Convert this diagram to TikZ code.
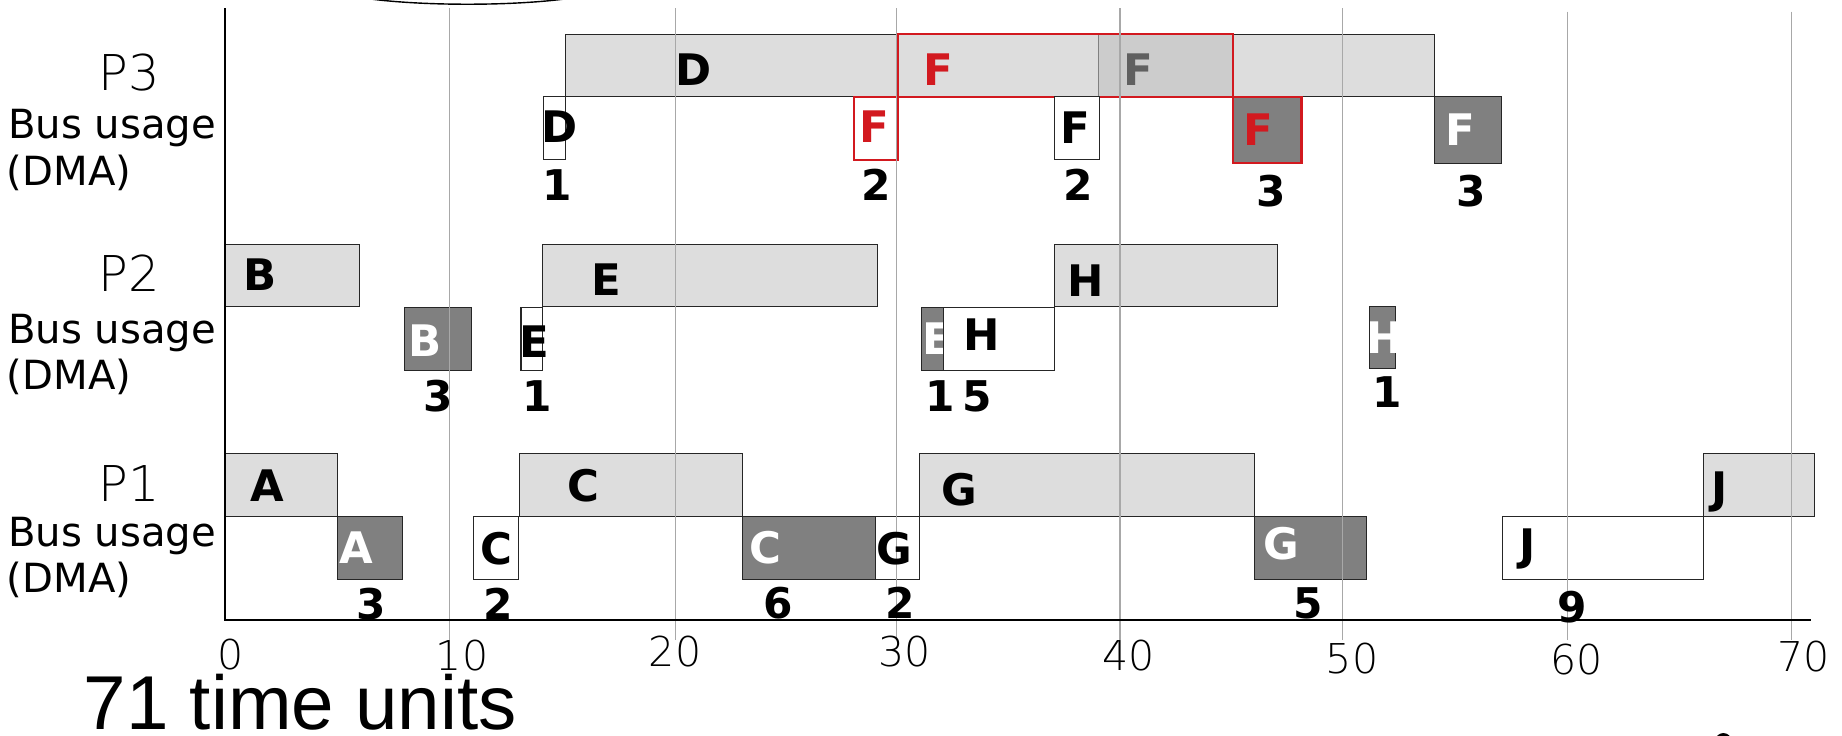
\documentclass[tikz,border=0pt]{standalone}
\usepackage{fontspec}
\newfontfamily\thinf{DejaVu Sans ExtraLight}
\newfontfamily\djv{DejaVu Sans}
\newfontfamily\arialf{Liberation Sans}
\definecolor{lg}{HTML}{DDDDDD}
\definecolor{ov}{HTML}{CCCCCC}
\definecolor{dg}{HTML}{808080}
\definecolor{rd}{HTML}{D2191F}
\definecolor{gt}{HTML}{606060}
\definecolor{gridc}{HTML}{A8A8A8}
\tikzset{
 bx/.style={draw=black!85, line width=0.45pt},
 lgt/.style={bx, fill=lg},
 drk/.style={bx, fill=dg},
 wht/.style={bx, fill=white},
 redb/.style={draw=rd, line width=0.9pt},
 lbl/.style={inner sep=0pt, font=\djv\bfseries\fontsize{18.5}{20}\selectfont},
 num/.style={inner sep=0pt, font=\djv\bfseries\fontsize{18}{20}\selectfont},
 tick/.style={inner sep=0pt, font=\thinf\fontsize{17.5}{20}\selectfont},
 pname/.style={inner sep=0pt, anchor=base, font=\thinf\fontsize{21}{24}\selectfont},
 side/.style={inner sep=0pt, anchor=base west, font=\djv\fontsize{17.1}{20}\selectfont},
 gridl/.style={draw=gridc, line width=0.5pt},
 axisl/.style={draw=black, line width=0.9pt},
}
\begin{document}
\begin{tikzpicture}[x=0.5pt,y=-0.5pt]
\useasboundingbox (0,0) rectangle (1568,626);
\clip (0,0) rectangle (1568,626);
% partial shapes at the edges
\draw[line width=0.6pt] (398,-13.4) ellipse [x radius=61.3pt, y radius=8.5pt];
\fill (1467,631) ellipse [x radius=3.5pt, y radius=3.5pt];
% ---------- P1 ----------
\draw[lgt] (191.5,386) rectangle (287,439.5);
\draw[lgt] (442,386) rectangle (632,439.5);
\draw[lgt] (783,386) rectangle (1068,439.5);
\draw[lgt] (1450,386) rectangle (1544.5,439.5);
\draw[drk] (287,439.5) rectangle (343,493);
\draw[wht] (403,439.5) rectangle (441,493);
\draw[drk] (632,439.5) rectangle (745,493);
\draw[wht] (745,439.5) rectangle (783,493);
\draw[drk] (1068,439.5) rectangle (1163,493);
\draw[wht] (1279,439.5) rectangle (1450,493);
% ---------- P2 ----------
\draw[lgt] (191.5,208) rectangle (306,261);
\draw[lgt] (462,208) rectangle (747,261);
\draw[lgt] (898,208) rectangle (1087.5,261);
\draw[drk] (344.5,262) rectangle (401.5,315);
\draw[wht] (443.5,262) rectangle (462,315);
\draw[drk] (784.4,262) rectangle (803.4,315);
\begin{scope}
\clip (784.4,262) rectangle (803.4,315);
\node[lbl, text=white] (lE2w) at (798,288) {E};
\end{scope}
\draw[wht] (803.4,262) rectangle (898,315);
\draw[drk] (1165.5,261) rectangle (1188,314);
\begin{scope}
\clip (1165.5,261) rectangle (1188,314);
\node[lbl, text=white] (lH2w) at (1179,287.3) {H};
\end{scope}
% ---------- P3 ----------
\draw[wht] (462.4,82.5) rectangle (481.5,136);
\draw[lgt] (481.5,29.2) rectangle (763.5,82.5);
\draw[lgt] (935,29.2) rectangle (1221.3,82.5);
\fill[lg] (764.5,29.2) rectangle (935,82.5);
\fill[ov] (935,29.2) rectangle (1049.6,82.5);
\draw[draw=gt!80, line width=0.45pt] (935,29.2) -- (935,82.5);
\draw[redb] (764.5,29.2) rectangle (1049.6,82.5);
\draw[wht, redb] (726.6,82.5) rectangle (764.5,136);
\draw[wht] (898,82.5) rectangle (936,135.6);
\draw[drk, redb] (1049.6,82.5) rectangle (1107.9,139);
\draw[drk] (1221.3,82.5) rectangle (1278.5,139);
% ---------- grid and axes ----------
\foreach \gx/\gy in {382.5/7,575/7,763/7,953.4/7,1143/7,1334/10,1525/10}
  \draw[gridl] (\gx,\gy) -- (\gx,545);
\draw[axisl] (191.5,7) -- (191.5,528) -- (1542,528);
% ---------- tick labels ----------
\node[tick] (t0) at (196.6,557) {0};
\node[tick] (t10) at (393.3,558.3) {10};
\node[tick] (t20) at (574.7,554.8) {20};
\node[tick] (t30) at (770,555) {30};
\node[tick] (t40) at (960.7,557.6) {40};
\node[tick] (t50) at (1151,560.4) {50};
\node[tick] (t60) at (1342,561.8) {60};
\node[tick] (t70) at (1535,559) {70};
\node[inner sep=0pt, anchor=base west, font=\arialf\fontsize{32.5}{34}\selectfont] (total) at (71,621) {71 time units};
% ---------- side labels ----------
\node[pname] (p3) at (110,77) {P3};
\node[side] (b3) at (6.5,117.5) {Bus usage};
\node[side] (d3) at (5.5,157.5) {(DMA)};
\node[pname] (p2) at (110,248) {P2};
\node[side] (b2) at (6.5,292) {Bus usage};
\node[side] (d2) at (5.5,331.5) {(DMA)};
\node[pname] (p1) at (110,426.5) {P1};
\node[side] (b1) at (6.5,465) {Bus usage};
\node[side] (d1) at (5.5,504.5) {(DMA)};
% ---------- P3 labels ----------
\node[lbl] (lD3) at (590.5,59) {D};
\node[lbl] (lD3d) at (476,108) {D};
\node[lbl, text=rd] (lF3a) at (744,108) {F};
\node[lbl, text=rd] (lF3b) at (798.5,59) {F};
\node[lbl, text=gt] (lF3c) at (969,59) {F};
\node[lbl] (lF3d) at (915.5,108.5) {F};
\node[lbl, text=rd] (lF3e) at (1071.5,110) {F};
\node[lbl, text=white] (lF3f) at (1243,110.4) {F};
\node[num] (n31) at (474,157.5) {1};
\node[num] (n32) at (746,157.5) {2};
\node[num] (n33) at (917.5,157.5) {2};
\node[num] (n34) at (1082,163) {3};
\node[num] (n35) at (1252.5,163) {3};
% ---------- P2 labels ----------
\node[lbl] (lB2) at (221.4,234) {B};
\node[lbl, text=white] (lB2d) at (362,290) {B};
\node[lbl] (lE2d) at (454.5,291) {E};
\node[lbl] (lE2) at (516,238) {E};
\node[lbl] (lH2d) at (836,284.5) {H};
\node[lbl] (lH2) at (923.8,239) {H};
\node[num] (n21) at (372.8,337) {3};
\node[num] (n22) at (457,337) {1};
\node[num] (n23) at (800,337) {1};
\node[num] (n24) at (831.8,337) {5};
\node[num] (n25) at (1181,334) {1};
% ---------- P1 labels ----------
\node[lbl] (lA1) at (227.9,413) {A};
\node[lbl, text=white] (lA1d) at (303,465.8) {A};
\node[lbl] (lC1d) at (423,467) {C};
\node[lbl] (lC1) at (497,413.5) {C};
\node[lbl, text=white] (lC1e) at (652,466) {C};
\node[lbl] (lG1d) at (761,466.8) {G};
\node[lbl] (lG1) at (816.4,416.5) {G};
\node[lbl, text=white] (lG1e) at (1090.3,463) {G};
\node[lbl] (lJ1d) at (1300,467.6) {J};
\node[lbl] (lJ1) at (1464,418.5) {J};
\node[num] (n11) at (315.6,514.3) {3};
\node[num] (n12) at (423.7,514) {2};
\node[num] (n13) at (662.7,513) {6};
\node[num] (n14) at (766,513) {2};
\node[num] (n15) at (1113.6,514) {5};
\node[num] (n16) at (1338,517) {9};
\end{tikzpicture}
\end{document}
